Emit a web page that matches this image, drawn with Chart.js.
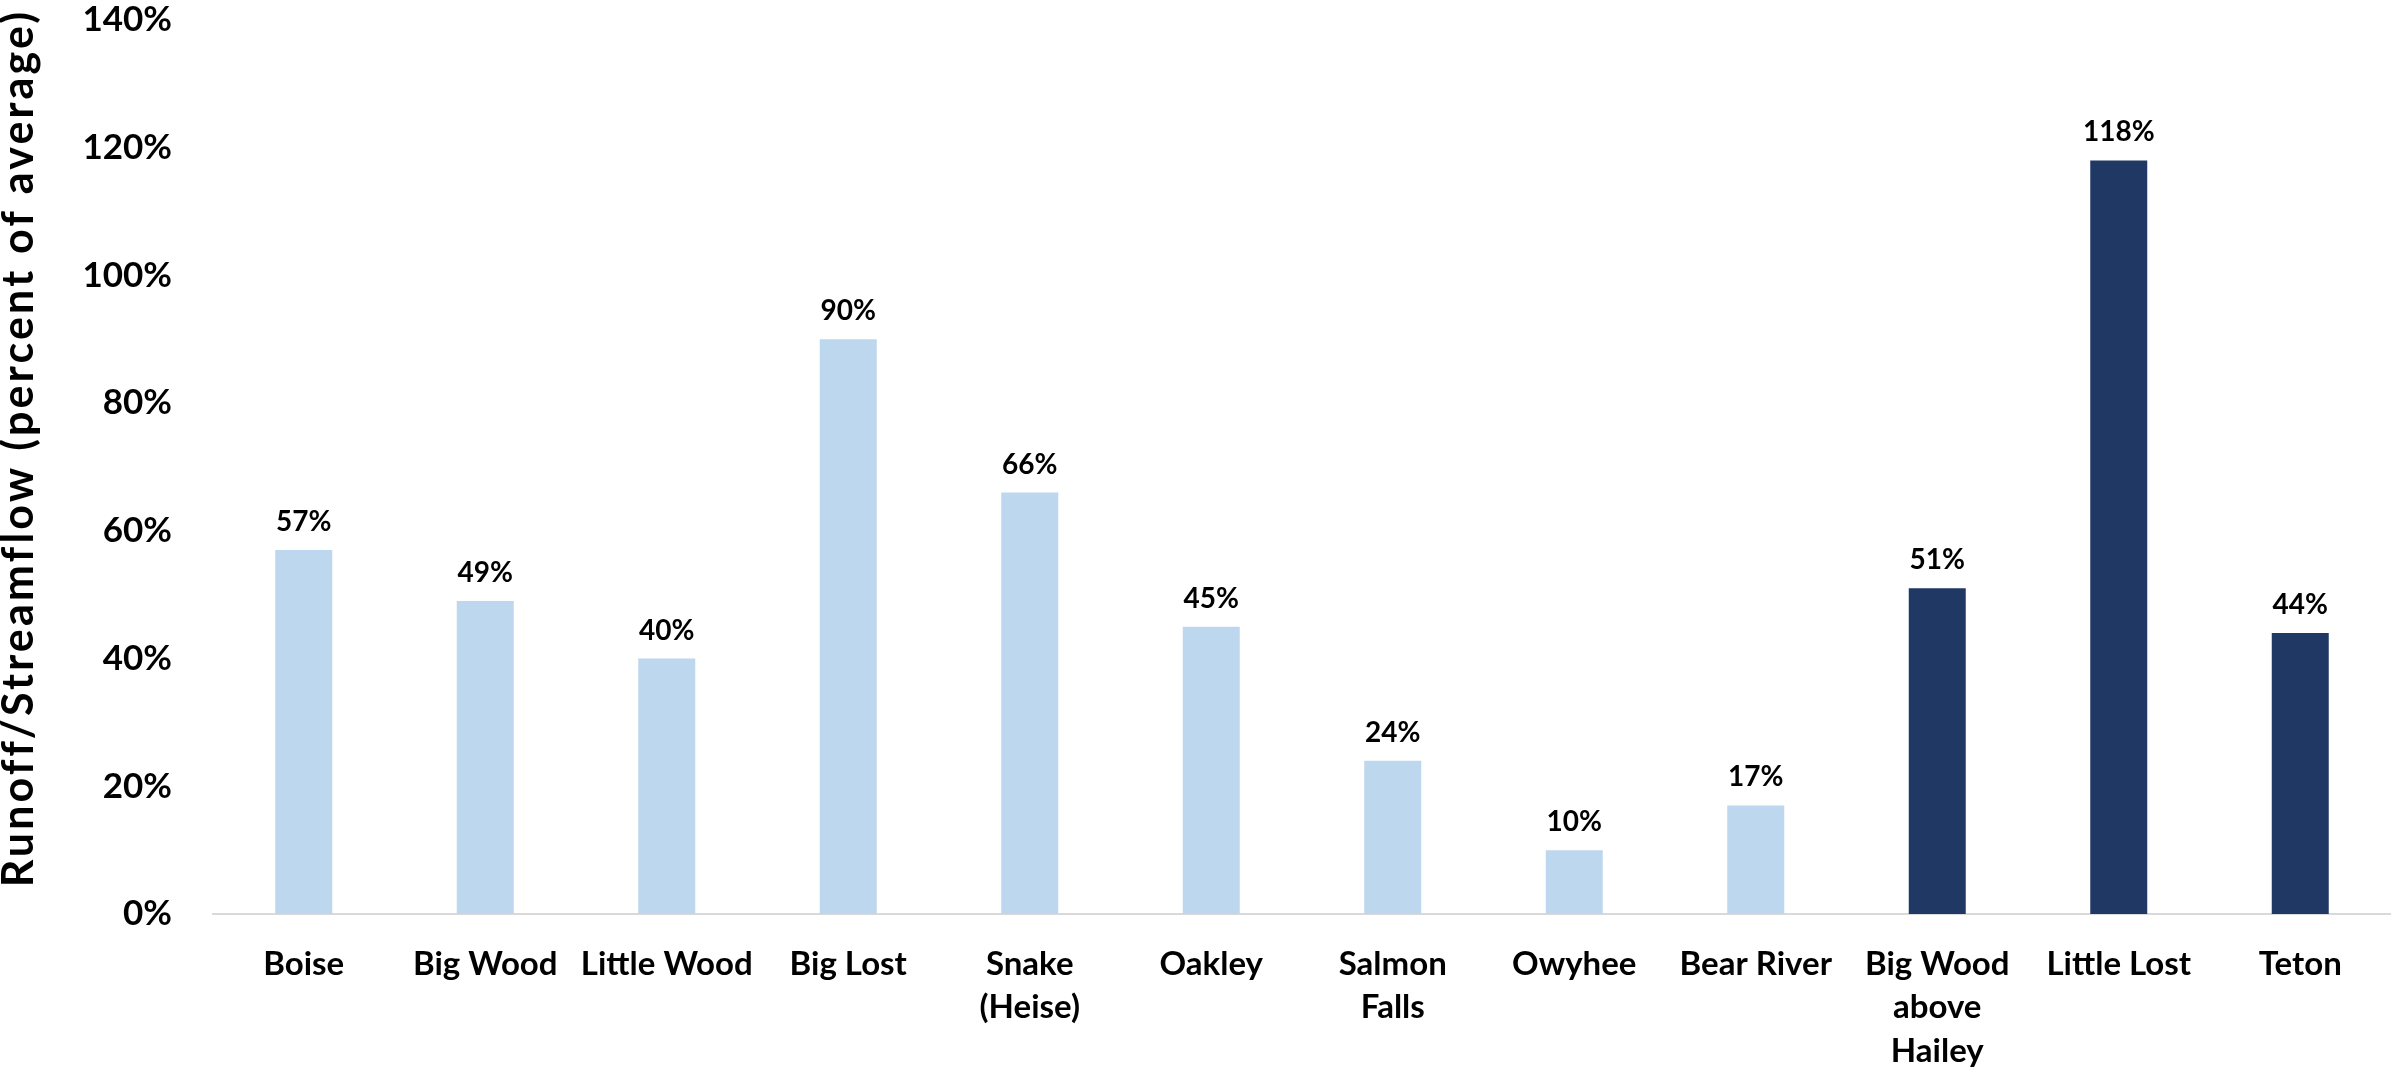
<!DOCTYPE html>
<html>
<head>
<meta charset="utf-8">
<title>Runoff/Streamflow (percent of average)</title>
<script src="https://cdn.jsdelivr.net/npm/chart.js@4/dist/chart.umd.min.js"></script>
<style>
  html, body { margin: 0; padding: 0; background: #ffffff; }
  canvas { display: block; }
</style>
</head>
<body>
<canvas id="chart" width="2391" height="1069"></canvas>
<script>
// Basins (multi-line names are arrays of lines)
const basins = [
  'Boise', 'Big Wood', 'Little Wood', 'Big Lost', ['Snake', '(Heise)'], 'Oakley',
  ['Salmon', 'Falls'], 'Owyhee', 'Bear River', ['Big Wood', 'above', 'Hailey'],
  'Little Lost', 'Teton'
];

// Runoff/streamflow as percent of average
const percentOfAverage = [57, 49, 40, 90, 66, 45, 24, 10, 17, 51, 118, 44];

// Y axis ticks (percent)
const yTicks = [0, 20, 40, 60, 80, 100, 120, 140];

const yAxisTitle = 'Runoff/Streamflow (percent of average)';

// Basins from this index on are drawn in the dark colour
const firstDarkIndex = 9;

const LIGHT = '#BDD7EE';
const DARK = '#203864';
const FONT = 'Lato, "Open Sans", sans-serif';

// Value labels above each bar
const valueLabels = {
  id: 'valueLabels',
  afterDatasetsDraw(chart) {
    const { ctx } = chart;
    const meta = chart.getDatasetMeta(0);
    ctx.save();
    ctx.font = 'bold 28px ' + FONT;
    ctx.fillStyle = '#000000';
    ctx.textAlign = 'center';
    ctx.textBaseline = 'alphabetic';
    meta.data.forEach((bar, i) => {
      ctx.fillText(percentOfAverage[i] + '%', bar.x, bar.y - 19);
    });
    ctx.restore();
  }
};

// Rotated y axis title, read bottom to top
const axisTitle = {
  id: 'axisTitle',
  afterDraw(chart) {
    const { ctx } = chart;
    ctx.save();
    ctx.font = 'bold 43px ' + FONT;
    ctx.fillStyle = '#000000';
    ctx.textAlign = 'center';
    ctx.textBaseline = 'alphabetic';
    if ('letterSpacing' in ctx) ctx.letterSpacing = '3.2px';
    ctx.translate(33, 448);
    ctx.rotate(-Math.PI / 2);
    ctx.fillText(yAxisTitle, 0, 0);
    ctx.restore();
  }
};

new Chart(document.getElementById('chart'), {
  type: 'bar',
  data: {
    labels: basins,
    datasets: [{
      data: percentOfAverage,
      backgroundColor: (c) => (c.dataIndex >= firstDarkIndex ? DARK : LIGHT),
      borderWidth: 0,
      categoryPercentage: 1,
      barPercentage: 0.314
    }]
  },
  options: {
    responsive: false,
    devicePixelRatio: 1,
    animation: false,
    layout: { padding: { top: 20, right: 0, bottom: 0, left: 0 } },
    plugins: {
      legend: { display: false },
      tooltip: { enabled: false },
      title: { display: false }
    },
    scales: {
      x: {
        grid: { display: false, drawTicks: false },
        border: { display: true, color: '#D9D9D9', width: 2 },
        ticks: {
          autoSkip: false,
          maxRotation: 0,
          minRotation: 0,
          padding: 28,
          color: '#000000',
          font: { family: FONT, size: 33, weight: 'bold', lineHeight: 1.33 }
        },
        afterFit(scale) { scale.height = 155; }
      },
      y: {
        min: 0,
        max: 140,
        afterBuildTicks(scale) { scale.ticks = yTicks.map(v => ({ value: v })); },
        // invisible tick marks leave the gap between labels and bars
        grid: { display: false, drawTicks: true, tickLength: 41, tickColor: 'rgba(0,0,0,0)' },
        border: { display: false },
        ticks: {
          padding: 0,
          color: '#000000',
          font: { family: FONT, size: 35, weight: 'bold', lineHeight: 1 },
          callback: (v) => v + '%'
        },
        afterFit(scale) { scale.width = 213; }
      }
    }
  },
  plugins: [valueLabels, axisTitle]
});
</script>
</body>
</html>
